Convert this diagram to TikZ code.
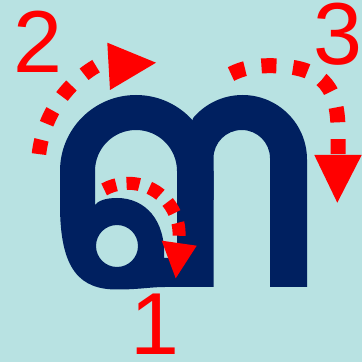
\documentclass[tikz,border=0pt]{standalone}
\usepackage{fontspec}
\setmainfont{Liberation Sans}
\definecolor{bgc}{RGB}{184,226,226}
\definecolor{navy}{RGB}{0,32,96}
\definecolor{arrred}{RGB}{255,0,0}
\begin{document}
\begin{tikzpicture}[x=1pt,y=1pt,
  glyph/.style={fill=navy, even odd rule},
  reddash/.style={draw=arrred, line cap=butt},
  head/.style={fill=arrred},
  num/.style={text=arrred, font=\fontsize{88}{88}\selectfont, inner sep=0pt}]
\fill[bgc] (0,0) rectangle (362,362);
\useasboundingbox (0,0) rectangle (362,362);
% left part: loop + first arch + middle stem
\fill[glyph]
  (213.5,75) -- (213.5,191) -- (212,191) arc[start angle=0,end angle=180,radius=76]
  -- (60,157) .. controls (60,92) and (80,72.5) .. (117,72.5)
  .. controls (140,72.5) and (150,75) .. (165,75) -- cycle
  (95,157) -- (95,191) arc[start angle=180,end angle=0,radius=41]
  -- (177,104) -- (164,104) .. controls (166,142) and (145,164) .. (117,164)
  .. controls (105,164) and (98,161) .. (95,157) -- cycle
  (117,116) circle[radius=21];
% second arch + right stem
\fill[glyph]
  (307,202.5) arc[start angle=0,end angle=140,radius=64.5]
  -- (188,227) -- (188,162) -- (213.5,162) -- (213.5,203.75)
  arc[start angle=180,end angle=0,radius=28.25]
  -- (270,75) -- (307,75) -- cycle;
% arrow 1
\draw[reddash, line width=13pt, dash pattern=on 13pt off 10.4pt]
  ([shift={(118.4:50.8)}]128.3,127.9) arc[start angle=118.4,end angle=-3.5,radius=50.8];
\fill[head] (161.7,121.3) -- (196.7,116.3) -- (175.7,83.7) -- cycle;
% arrow 2
\draw[reddash, line width=14.5pt, dash pattern=on 14.5pt off 16.9pt]
  ([shift={(173.5:117.5)}]155.7,194.6) arc[start angle=173.5,end angle=120.5,radius=117.5];
\fill[head] (107.3,319.3) -- (156,299.3) -- (110,272) -- cycle;
% arrow 3
\draw[reddash, line width=15pt, dash pattern=on 15pt off 16.7pt]
  (231,288) .. controls (243,294) and (255,296.3) .. (269,296.3)
  .. controls (318,296.3) and (338,280) .. (338,232) -- (338,206);
\fill[head] (314.3,207) -- (361.7,207) -- (337.3,159.3) -- cycle;
% numbers
\node[num] (n1) at (155,38) {1};
\node[num] (n2) at (38,320.5) {2};
\node[num] (n3) at (338,327.5) {3};
\end{tikzpicture}
\end{document}
